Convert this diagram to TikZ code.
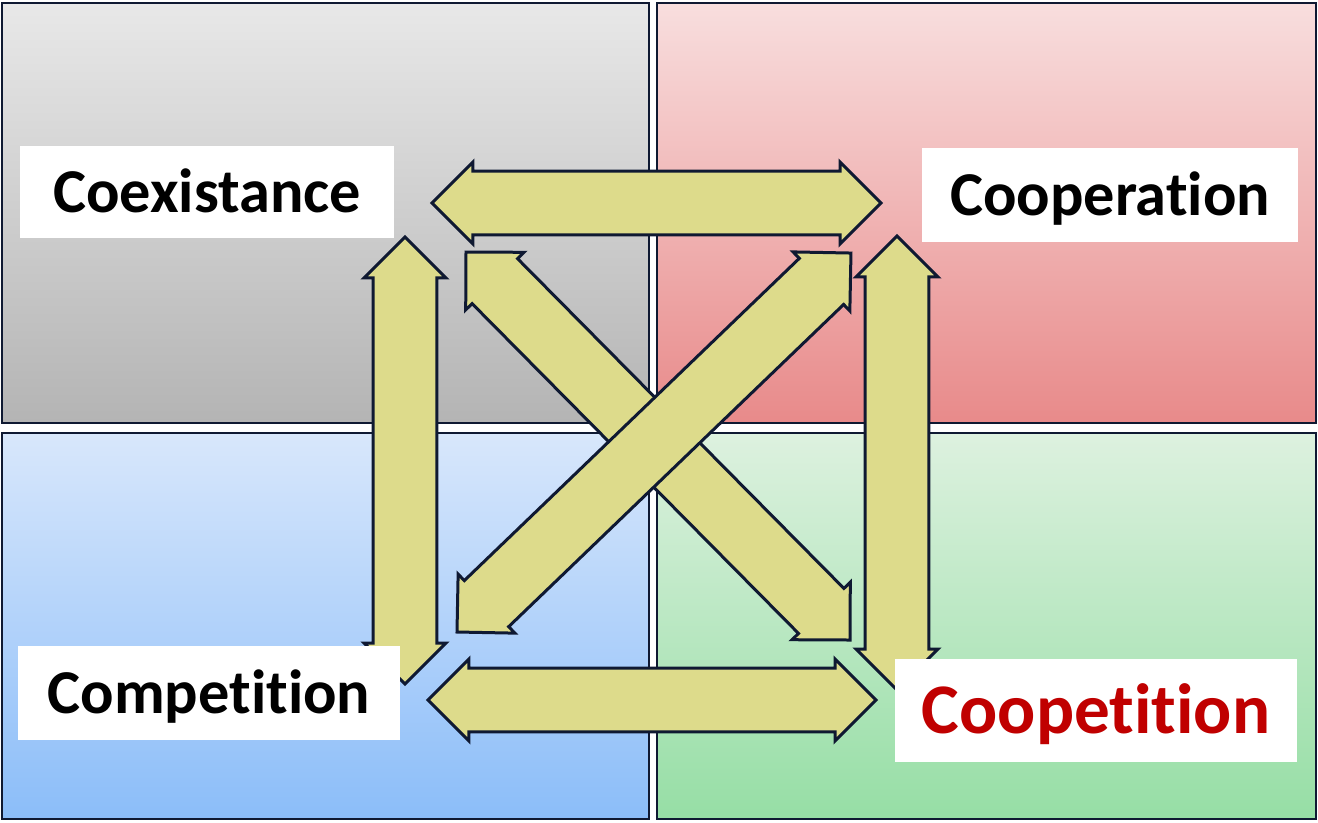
\documentclass[tikz,border=0pt]{standalone}
\usepackage{fontspec}
\setmainfont[Ligatures=NoCommon]{Carlito}
\usepackage{tikz}
\usetikzlibrary{calc}
\usepackage{xcolor}

\definecolor{navy}{RGB}{15,25,50}
\definecolor{khaki}{RGB}{221,219,139}
\definecolor{darkred}{RGB}{192,0,0}

\newcommand{\arrhd}{23.3pt}
\newcommand{\arrsh}{18.2pt}
\newcommand{\blockarrow}[2]{%
  \path let \p1=($(#2)-(#1)$) in \pgfextra{%
    \pgfmathsetmacro{\arrlen}{veclen(\x1,\y1)}%
    \pgfmathsetmacro{\arrang}{atan2(\y1,\x1)}%
    \global\let\arrlen\arrlen \global\let\arrang\arrang};
  \draw[blockarr, shift={(#1)}, rotate=\arrang]
    (0pt,0pt) -- (\arrhd,\arrhd) -- (\arrhd,\arrsh)
    -- ({\arrlen pt-\arrhd},\arrsh) -- ({\arrlen pt-\arrhd},\arrhd)
    -- ({\arrlen pt},0pt) -- ({\arrlen pt-\arrhd},-\arrhd)
    -- ({\arrlen pt-\arrhd},-\arrsh) -- (\arrhd,-\arrsh)
    -- (\arrhd,-\arrhd) -- cycle;}

\begin{document}
\begin{tikzpicture}[x=0.02cm,y=-0.02cm]
\tikzset{
    panel/.style={%
        draw=navy, line width=0.04cm
        },
    blockarr/.style={%
        draw=navy, fill=khaki,
        line width=0.06cm,
        line join=miter
        },
    lbl/.style={%
        fill=white, inner sep=0pt,
        text height=0.8cm, text depth=0pt,
        font=\bfseries\fontsize{35.5}{40}\selectfont
        },
}
\useasboundingbox (0,0) rectangle (1318,822);
%%%QUADRANTS
\draw[panel, top color={rgb,255:red,232;green,232;blue,232}, bottom color={rgb,255:red,180;green,180;blue,180}] (2,3) rectangle (649,423);
\draw[panel, top color={rgb,255:red,248;green,222;blue,222}, bottom color={rgb,255:red,232;green,138;blue,138}] (657,3) rectangle (1316,423);
\draw[panel, top color={rgb,255:red,216;green,231;blue,251}, bottom color={rgb,255:red,139;green,189;blue,249}] (2,433) rectangle (649,819);
\draw[panel, top color={rgb,255:red,221;green,241;blue,223}, bottom color={rgb,255:red,150;green,222;blue,165}] (657,433) rectangle (1316,819);
%%%ARROW ENDS
\coordinate (la1) at (405,684);
\coordinate (la2) at (405,237);
\coordinate (ra1) at (897,690);
\coordinate (ra2) at (897,236);
\coordinate (ta1) at (432,203);
\coordinate (ta2) at (881,203);
\coordinate (ba1) at (428,700);
\coordinate (ba2) at (876,700);
\coordinate (da1) at (466,252);
\coordinate (da2) at (850,640);
\coordinate (db1) at (457,632);
\coordinate (db2) at (851,253);
%%%ARROWS
\blockarrow{la1}{la2}
\blockarrow{ra1}{ra2}
\blockarrow{ta1}{ta2}
\blockarrow{ba1}{ba2}
\blockarrow{da1}{da2}
\blockarrow{db1}{db2}
%%%LABELS
\node[lbl, minimum width=374*0.02cm, minimum height=92*0.02cm] (coex) at (207,192) {Coexistance};
\node[lbl, minimum width=376*0.02cm, minimum height=94*0.02cm] (coop) at (1110,195) {Cooperation};
\node[lbl, minimum width=382*0.02cm, minimum height=94*0.02cm] (comp) at (209,693) {Competition};
\node[lbl, minimum width=402*0.02cm, minimum height=103*0.02cm, text=darkred,
      text height=0.92cm, font=\bfseries\fontsize{40.5}{45}\selectfont] (coopet) at (1096,710) {Coopetition};
\end{tikzpicture}
\end{document}
